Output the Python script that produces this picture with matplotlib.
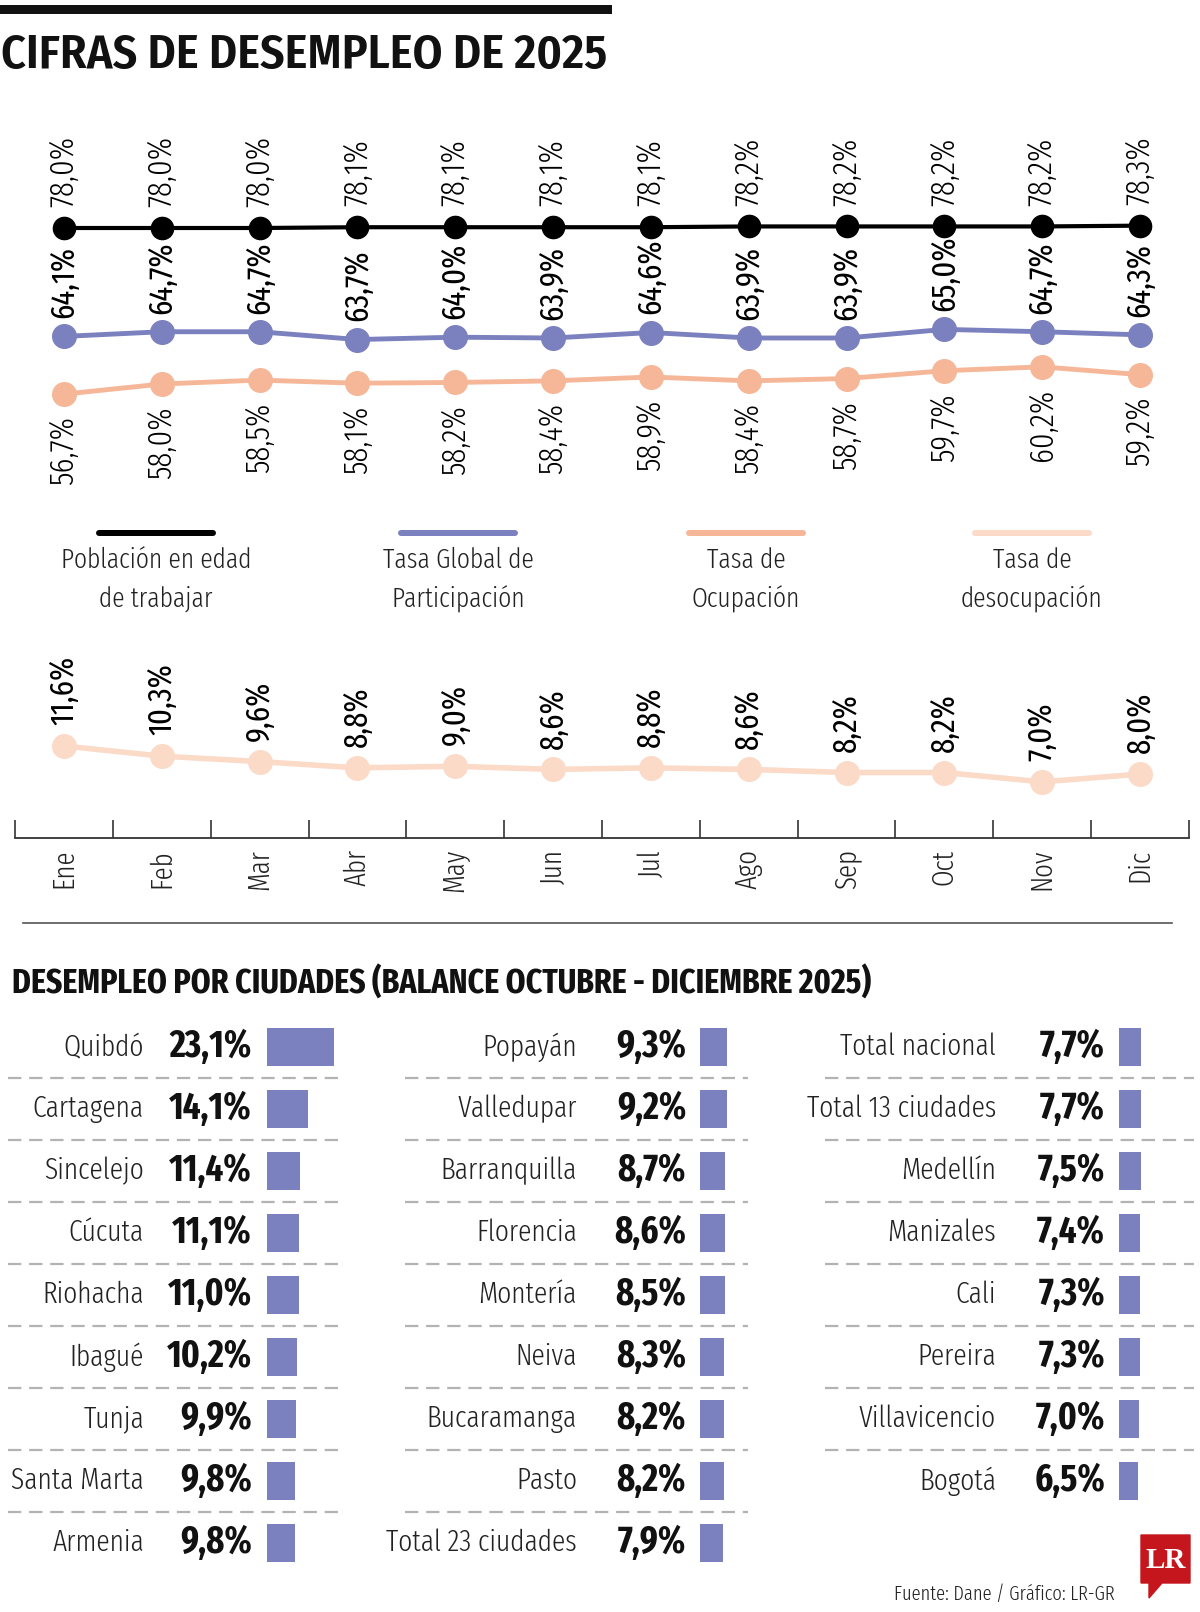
import matplotlib
matplotlib.use('Agg')
import matplotlib.pyplot as plt
import numpy as np
from matplotlib.lines import Line2D
from matplotlib.patches import Polygon

# ---- data ----
months = ['Ene', 'Feb', 'Mar', 'Abr', 'May', 'Jun', 'Jul', 'Ago', 'Sep', 'Oct', 'Nov', 'Dic']
pet = [78.0, 78.0, 78.0, 78.1, 78.1, 78.1, 78.1, 78.2, 78.2, 78.2, 78.2, 78.3]    # Población en edad de trabajar
tgp = [64.1, 64.7, 64.7, 63.7, 64.0, 63.9, 64.6, 63.9, 63.9, 65.0, 64.7, 64.3]    # Tasa Global de Participación
to_ = [56.7, 58.0, 58.5, 58.1, 58.2, 58.4, 58.9, 58.4, 58.7, 59.7, 60.2, 59.2]    # Tasa de Ocupación
td = [11.6, 10.3, 9.6, 8.8, 9.0, 8.6, 8.8, 8.6, 8.2, 8.2, 7.0, 8.0]               # Tasa de desocupación

legend_labels = ['Población en edad\nde trabajar', 'Tasa Global de\nParticipación',
                 'Tasa de\nOcupación', 'Tasa de\ndesocupación']

cities_1 = ['Quibdó', 'Cartagena', 'Sincelejo', 'Cúcuta', 'Riohacha', 'Ibagué', 'Tunja',
            'Santa Marta', 'Armenia']
rates_1 = [23.1, 14.1, 11.4, 11.1, 11.0, 10.2, 9.9, 9.8, 9.8]
cities_2 = ['Popayán', 'Valledupar', 'Barranquilla', 'Florencia', 'Montería', 'Neiva',
            'Bucaramanga', 'Pasto', 'Total 23 ciudades']
rates_2 = [9.3, 9.2, 8.7, 8.6, 8.5, 8.3, 8.2, 8.2, 7.9]
cities_3 = ['Total nacional', 'Total 13 ciudades', 'Medellín', 'Manizales', 'Cali', 'Pereira',
            'Villavicencio', 'Bogotá']
rates_3 = [7.7, 7.7, 7.5, 7.4, 7.3, 7.3, 7.0, 6.5]

# ---- style ----
BLUE = '#7b80bf'
ORANGE = '#f5b798'
PEACH = '#fbdac8'
LIGHT = dict(family='Fira Sans Extra Condensed', fontweight=300)
REGULAR = dict(family='Fira Sans Extra Condensed', fontweight=400)
BOLD = dict(family='Fira Sans Extra Condensed', fontweight=700)

W, H = 1200, 1612
PT = 0.72            # points per pixel at dpi 100
PX_PCT = 7.8         # vertical pixels per percentage point in the line charts
PX_BAR = 2.9         # horizontal pixels per percentage point in the city bars


def fx(px):
    return px / W


def fy(py):
    return 1 - py / H


def box(x0, y0, x1, y1):
    return [fx(x0), fy(y1), (x1 - x0) / W, (y1 - y0) / H]


def pct(v):
    return f'{v:.1f}%'.replace('.', ',')


fig = plt.figure(figsize=(W / 100, H / 100), dpi=100)

# header
fig.add_artist(Line2D([0, fx(607)], [fy(9)] * 2, color='#111111', lw=9 * PT))
fig.text(fx(1), fy(68), 'CIFRAS DE DESEMPLEO DE 2025', ha='left', va='baseline',
         family='Fira Sans Condensed', fontweight=600, fontsize=34.5, color='#111111')

# ---- top line chart ----
x = np.arange(len(months))
ax = fig.add_axes(box(15, 110, 1189, 500))
ax.set_xlim(-0.5, 11.5)
ax.set_ylim(78.0 - (500 - 228) / PX_PCT, 78.0 + (228 - 110) / PX_PCT)
ax.axis('off')
ax.plot(x, pet, '-o', color='black', lw=3, ms=16, zorder=3)
ax.plot(x, tgp, '-o', color=BLUE, lw=3.5, ms=17, zorder=3)
ax.plot(x, to_, '-o', color=ORANGE, lw=3.5, ms=17, zorder=3)
for i in x:
    ax.annotate(pct(pet[i]), (i, pet[i]), xytext=(0, 15), textcoords='offset points',
                rotation=90, ha='center', va='bottom', fontsize=24, color='black', **LIGHT)
    ax.annotate(pct(tgp[i]), (i, tgp[i]), xytext=(0, 13), textcoords='offset points',
                rotation=90, ha='center', va='bottom', fontsize=24, color='black', **REGULAR)
    ax.annotate(pct(to_[i]), (i, to_[i]), xytext=(0, -16), textcoords='offset points',
                rotation=90, ha='center', va='top', fontsize=24, color='black', **LIGHT)

# ---- legend ----
leg_colors = ['black', BLUE, ORANGE, PEACH]
leg_centers = [156, 458, 746, 1032]
for lab, col, cx in zip(legend_labels, leg_colors, leg_centers):
    fig.add_artist(Line2D([fx(cx - 57), fx(cx + 57)], [fy(533)] * 2, color=col,
                          lw=6 * PT, solid_capstyle='round'))
    for k, line in enumerate(lab.split('\n')):
        fig.text(fx(cx), fy(560 + 39 * k), line, ha='center', va='center',
                 fontsize=20, color='#222222', **LIGHT)

# ---- bottom line chart (desocupación) ----
ax2 = fig.add_axes(box(15, 620, 1189, 838))
ax2.set_xlim(-0.5, 11.5)
ax2.set_ylim(11.6 - (838 - 746) / PX_PCT, 11.6 + (746 - 620) / PX_PCT)
ax2.set_facecolor('none')
for s in ['top', 'left', 'right']:
    ax2.spines[s].set_visible(False)
ax2.spines['bottom'].set_color('#333333')
ax2.spines['bottom'].set_linewidth(1.3)
ax2.set_yticks([])
ax2.set_xticks(x)
ax2.set_xticklabels(months, rotation=90, fontsize=21, color='#222222', **LIGHT)
ax2.set_xticks(np.arange(-0.5, 12, 1), minor=True)
ax2.tick_params(axis='x', which='major', length=0, pad=11 * PT)
ax2.tick_params(axis='x', which='minor', direction='in', length=18 * PT, width=1.2,
                color='#333333')
ax2.plot(x, td, '-o', color=PEACH, lw=4, ms=17, zorder=3, clip_on=False)
for i in x:
    ax2.annotate(pct(td[i]), (i, td[i]), xytext=(0, 15), textcoords='offset points',
                 rotation=90, ha='center', va='bottom', fontsize=24, color='black', **REGULAR)

# separator + subtitle
fig.add_artist(Line2D([fx(23), fx(1172)], [fy(923)] * 2, color='#555555', lw=1.2))
fig.text(fx(12), fy(984), 'DESEMPLEO POR CIUDADES (BALANCE OCTUBRE - DICIEMBRE 2025)',
         ha='left', va='center', fontsize=24.8, color='#111111', **BOLD)

# ---- city table ----
ROW = 62
TOP = 1016
columns = [
    (cities_1, rates_1, 8, 342, 267, 144, 252),
    (cities_2, rates_2, 405, 748, 700, 577, 686),
    (cities_3, rates_3, 825, 1194, 1119, 996, 1105),
]
for names, vals, d0, d1, b0, name_r, val_r in columns:
    n = len(names)
    axc = fig.add_axes(box(d0, TOP, d1, TOP + 9 * ROW))
    axc.set_xlim(-(b0 - d0) / PX_BAR, (d1 - b0) / PX_BAR)
    axc.set_ylim(8.5, -0.5)
    axc.axis('off')
    axc.barh(np.arange(n), vals, height=0.62, color=BLUE)
    for i in range(n - 1):
        axc.axhline(i + 0.5, color='#b3b3b3', lw=1.6, dashes=(6, 3.5))
    for i, (name, v) in enumerate(zip(names, vals)):
        axc.annotate(name, (0, i), xytext=(-(b0 - name_r) * PT, 0), textcoords='offset points',
                     ha='right', va='center', fontsize=21.5, color='#222222', **LIGHT)
        axc.annotate(pct(v), (0, i), xytext=(-(b0 - val_r) * PT, 0), textcoords='offset points',
                     ha='right', va='center', fontsize=27, color='#111111', **BOLD)

# footer
fig.text(fx(1115), fy(1594), 'Fuente: Dane / Gráfico: LR-GR', ha='right', va='center',
         fontsize=14.5, color='#222222', **LIGHT)
logo = [(1141, 1535), (1190, 1535), (1190, 1583), (1162, 1583), (1149, 1598), (1149, 1583),
        (1141, 1583)]
fig.add_artist(Polygon([(fx(a), fy(b)) for a, b in logo], closed=True, color='#c4161c',
                       transform=fig.transFigure))
fig.text(fx(1165.5), fy(1560), 'LR', ha='center', va='center', color='white',
         family='Liberation Serif', fontweight='bold', fontsize=21)

fig.savefig('out.png', dpi=100)
